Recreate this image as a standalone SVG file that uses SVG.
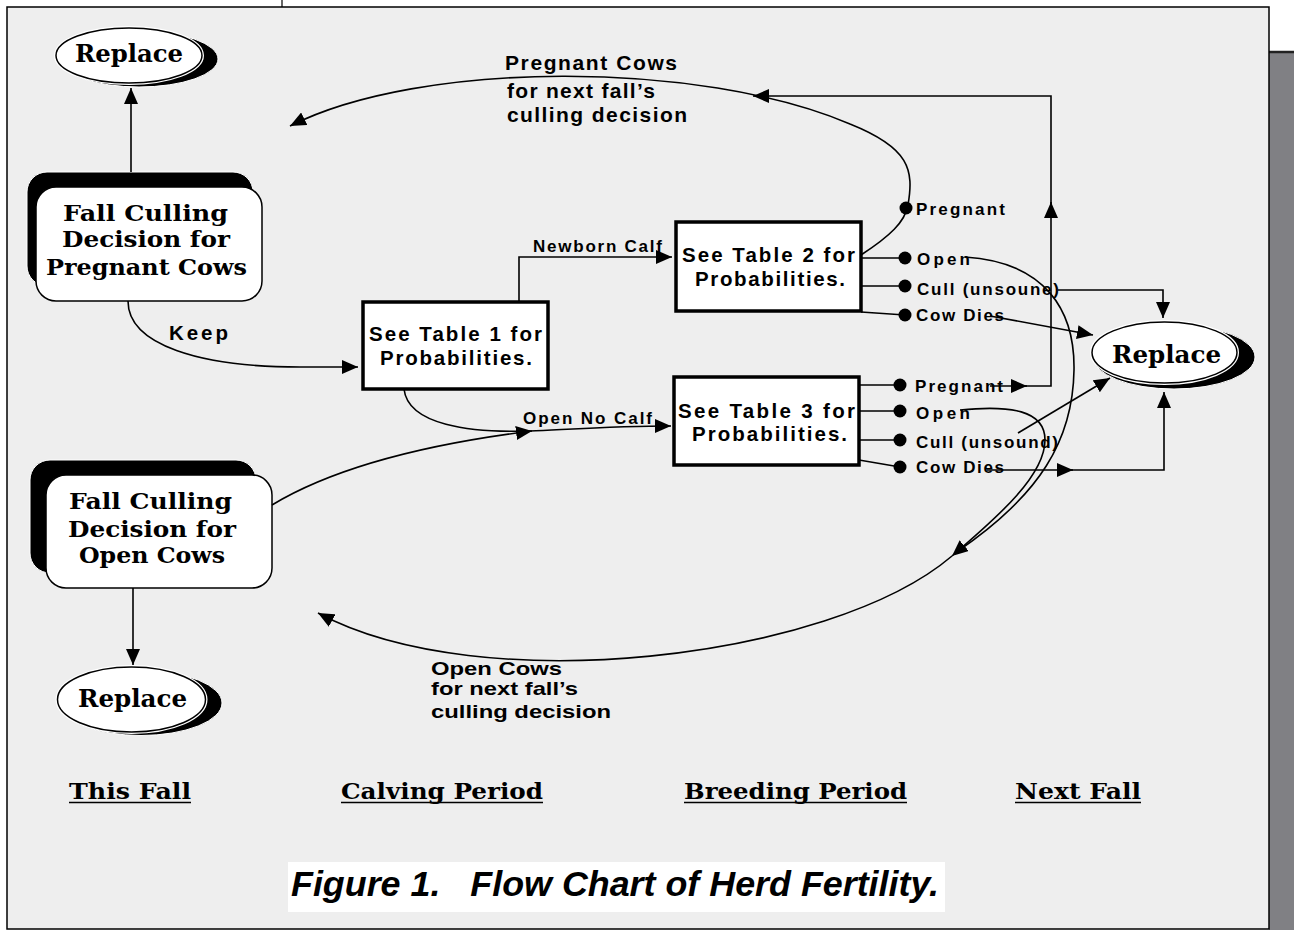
<svg xmlns="http://www.w3.org/2000/svg" width="1294" height="930" viewBox="0 0 1294 930">
<defs>
<style>
.frame{fill:#eeeeee;stroke:#000;stroke-width:1.5}
.conn{fill:none;stroke:#000;stroke-width:1.6}
.arr{marker-end:url(#ah)}
.box{fill:#fff;stroke:#000;stroke-width:3.5}
.rbox{fill:#fff;stroke:#000;stroke-width:1.5}
.shadow{fill:#000;stroke:#fff;stroke-width:1}
.ell{fill:#fff;stroke:#000;stroke-width:1.5}
.ellgap{fill:none;stroke:#fff;stroke-width:4}
.serif{font-family:"DejaVu Serif","Liberation Serif",serif;font-weight:bold;fill:#000}
.sans{font-family:"Liberation Sans",Arial,sans-serif;font-weight:bold;fill:#000}
.dot{fill:#000}
.ul{stroke:#000;stroke-width:1.5}
</style>
<marker id="ah" viewBox="0 0 16 14" refX="16" refY="7" markerWidth="16" markerHeight="14" markerUnits="userSpaceOnUse" orient="auto"><path d="M0,0 L16,7 L0,14 z" fill="#000"/></marker>
</defs>

<rect x="0" y="0" width="1294" height="930" fill="#fff"/>
<line x1="282" y1="0" x2="282" y2="7" stroke="#000" stroke-width="1.2"/>
<rect x="1269" y="52" width="25" height="878" fill="#808084"/>
<line x1="1269" y1="52" x2="1294" y2="52" stroke="#222" stroke-width="2.5"/>
<rect class="frame" x="7" y="7" width="1262" height="922"/>

<g id="node-replace-top">
<ellipse class="shadow" cx="139" cy="59" rx="79" ry="28"/>
<ellipse class="ellgap" cx="129" cy="55.5" rx="73" ry="27.5"/>
<ellipse class="ell" cx="129" cy="55.5" rx="73" ry="27.5"/>
<text class="serif" x="75" y="62" font-size="24" textLength="108" lengthAdjust="spacingAndGlyphs">Replace</text>
</g>

<g id="node-fall-pregnant">
<rect class="shadow" x="27" y="172" width="226" height="114" rx="20"/>
<rect class="rbox" x="36" y="187" width="226" height="114" rx="20"/>
<text class="serif" x="63" y="221" font-size="22" textLength="165" lengthAdjust="spacingAndGlyphs">Fall Culling</text>
<text class="serif" x="62" y="247" font-size="22" textLength="168" lengthAdjust="spacingAndGlyphs">Decision for</text>
<text class="serif" x="46" y="275" font-size="22" textLength="201" lengthAdjust="spacingAndGlyphs">Pregnant Cows</text>
</g>

<g id="node-fall-open">
<rect class="shadow" x="30" y="460" width="226" height="113" rx="20"/>
<rect class="rbox" x="46" y="475" width="226" height="113" rx="20"/>
<text class="serif" x="69" y="509" font-size="22" textLength="163" lengthAdjust="spacingAndGlyphs">Fall Culling</text>
<text class="serif" x="68" y="537" font-size="22" textLength="168" lengthAdjust="spacingAndGlyphs">Decision for</text>
<text class="serif" x="79" y="563" font-size="22" textLength="146" lengthAdjust="spacingAndGlyphs">Open Cows</text>
</g>

<g id="node-replace-bottom">
<ellipse class="shadow" cx="141" cy="703" rx="81" ry="32.5"/>
<ellipse class="ellgap" cx="131.5" cy="699.5" rx="74" ry="32.5"/>
<ellipse class="ell" cx="131.5" cy="699.5" rx="74" ry="32.5"/>
<text class="serif" x="78" y="707" font-size="24" textLength="109" lengthAdjust="spacingAndGlyphs">Replace</text>
</g>

<g id="node-table1">
<rect class="box" x="363" y="302" width="185" height="87"/>
<text class="sans" x="369" y="341" font-size="20.5" textLength="173" lengthAdjust="spacing">See Table 1 for</text>
<text class="sans" x="380" y="365" font-size="20.5" textLength="152" lengthAdjust="spacing">Probabilities.</text>
</g>

<g id="node-table2">
<rect class="box" x="676" y="222" width="185" height="89"/>
<text class="sans" x="682" y="262" font-size="20.5" textLength="173" lengthAdjust="spacing">See Table 2 for</text>
<text class="sans" x="695" y="286" font-size="20.5" textLength="150" lengthAdjust="spacing">Probabilities.</text>
</g>

<g id="node-table3">
<rect class="box" x="674" y="377" width="185" height="88"/>
<text class="sans" x="678" y="418" font-size="20.5" textLength="177" lengthAdjust="spacing">See Table 3 for</text>
<text class="sans" x="692" y="441" font-size="20.5" textLength="155" lengthAdjust="spacing">Probabilities.</text>
</g>

<g id="node-replace-right">
<ellipse class="shadow" cx="1174" cy="357" rx="81" ry="32"/>
<ellipse class="ellgap" cx="1164.5" cy="352.5" rx="72.5" ry="30.5"/>
<ellipse class="ell" cx="1164.5" cy="352.5" rx="72.5" ry="30.5"/>
<text class="serif" x="1112" y="363" font-size="24" textLength="109" lengthAdjust="spacingAndGlyphs">Replace</text>
</g>

<g id="labels">
<text class="sans" x="505" y="70" font-size="21" textLength="172" lengthAdjust="spacing">Pregnant Cows</text>
<text class="sans" x="507" y="98" font-size="21" textLength="148" lengthAdjust="spacing">for next fall’s</text>
<text class="sans" x="507" y="122" font-size="21" textLength="180" lengthAdjust="spacing">culling decision</text>
<text class="sans" x="431" y="675" font-size="19" textLength="131" lengthAdjust="spacingAndGlyphs">Open Cows</text>
<text class="sans" x="431" y="695" font-size="19" textLength="147" lengthAdjust="spacingAndGlyphs">for next fall’s</text>
<text class="sans" x="431" y="718" font-size="19" textLength="180" lengthAdjust="spacingAndGlyphs">culling decision</text>
<text class="sans" x="169" y="340" font-size="20.5" textLength="59" lengthAdjust="spacing">Keep</text>
<text class="sans" x="533" y="252" font-size="17" textLength="129" lengthAdjust="spacing">Newborn Calf</text>
<text class="sans" x="523" y="424" font-size="17" textLength="129" lengthAdjust="spacing">Open No Calf</text>
<text class="sans" x="916" y="215" font-size="17" textLength="89" lengthAdjust="spacing">Pregnant</text>
<text class="sans" x="917" y="265" font-size="17" textLength="53" lengthAdjust="spacing">Open</text>
<text class="sans" x="917" y="295" font-size="17" textLength="142" lengthAdjust="spacing">Cull (unsoune)</text>
<text class="sans" x="916" y="321" font-size="17" textLength="88" lengthAdjust="spacing">Cow Dies</text>
<text class="sans" x="915" y="392" font-size="17" textLength="88" lengthAdjust="spacing">Pregnant</text>
<text class="sans" x="916" y="419" font-size="17" textLength="54" lengthAdjust="spacing">Open</text>
<text class="sans" x="916" y="448" font-size="17" textLength="142" lengthAdjust="spacing">Cull (unsound)</text>
<text class="sans" x="916" y="473" font-size="17" textLength="88" lengthAdjust="spacing">Cow Dies</text>
<text class="serif" x="69" y="799" font-size="22" textLength="122" lengthAdjust="spacingAndGlyphs">This Fall</text>
<text class="serif" x="341" y="799" font-size="22" textLength="202" lengthAdjust="spacingAndGlyphs">Calving Period</text>
<text class="serif" x="684" y="799" font-size="22" textLength="223" lengthAdjust="spacingAndGlyphs">Breeding Period</text>
<text class="serif" x="1015" y="799" font-size="22" textLength="126" lengthAdjust="spacingAndGlyphs">Next Fall</text>
<line class="ul" x1="69" y1="802.5" x2="191" y2="802.5"/>
<line class="ul" x1="341" y1="802.5" x2="543" y2="802.5"/>
<line class="ul" x1="684" y1="802.5" x2="907" y2="802.5"/>
<line class="ul" x1="1015" y1="802.5" x2="1141" y2="802.5"/>
<rect x="288" y="862" width="657" height="50" fill="#fff"/>
<text class="sans" x="291" y="896" font-size="35" font-style="italic" textLength="648" lengthAdjust="spacingAndGlyphs" style="white-space:pre">Figure 1.   Flow Chart of Herd Fertility.</text>
</g>

<g id="connectors">
<path class="conn arr" d="M131,172 L131,88"/>
<path class="conn arr" d="M133,588 L133,665"/>
<path class="conn arr" d="M128,301 C128,345 200,367 300,367 L358,367"/>
<path class="conn arr" d="M519,302 L519,257 L672,257"/>
<path class="conn arr" d="M404,389 C408,425 470,433 530,431 C575,429 620,426 671,426"/>
<path class="conn arr" d="M272,505 C330,470 420,445 532,431"/>
<path class="conn arr" d="M861,255 C890,236 905,222 908,205 C914,170 910,148 850,124 C700,60 420,60 290,126"/>
<path class="conn" d="M861,258 L905,258"/>
<path class="conn" d="M861,286 L905,286"/>
<path class="conn" d="M861,312 L905,315"/>
<path class="conn" d="M859,385 L900,385"/>
<path class="conn" d="M859,411 L900,411"/>
<path class="conn" d="M859,440 L900,440"/>
<path class="conn" d="M859,460 L900,467"/>
<circle class="dot" cx="906" cy="208" r="6.5"/>
<circle class="dot" cx="905" cy="258" r="6.5"/>
<circle class="dot" cx="905" cy="286" r="6.5"/>
<circle class="dot" cx="905" cy="315" r="6.5"/>
<circle class="dot" cx="900" cy="385" r="6.5"/>
<circle class="dot" cx="900" cy="411" r="6.5"/>
<circle class="dot" cx="900" cy="440" r="6.5"/>
<circle class="dot" cx="900" cy="467" r="6.5"/>
<path class="conn arr" d="M990,386 L1027,386"/>
<path class="conn arr" d="M1025,386 L1051,386 L1051,202"/>
<path class="conn arr" d="M1051,204 L1051,96 L753,96"/>
<path class="conn arr" d="M1058,290 L1163,290 L1163,318"/>
<path class="conn arr" d="M990,316 L1093,335"/>
<path class="conn arr" d="M1018,433 L1110,378"/>
<path class="conn arr" d="M987,470 L1073,470"/>
<path class="conn arr" d="M1071,470 L1164,470 L1164,392"/>
<path class="conn" d="M965,257 C1045,262 1075,310 1074,370 C1073,440 1040,495 958,551"/>
<path class="conn arr" d="M960,410 C1010,405 1045,410 1045,440 C1045,475 1000,515 952,556"/>
<path class="conn arr" d="M952,556 C830,660 480,700 318,613"/>
</g>
</svg>
